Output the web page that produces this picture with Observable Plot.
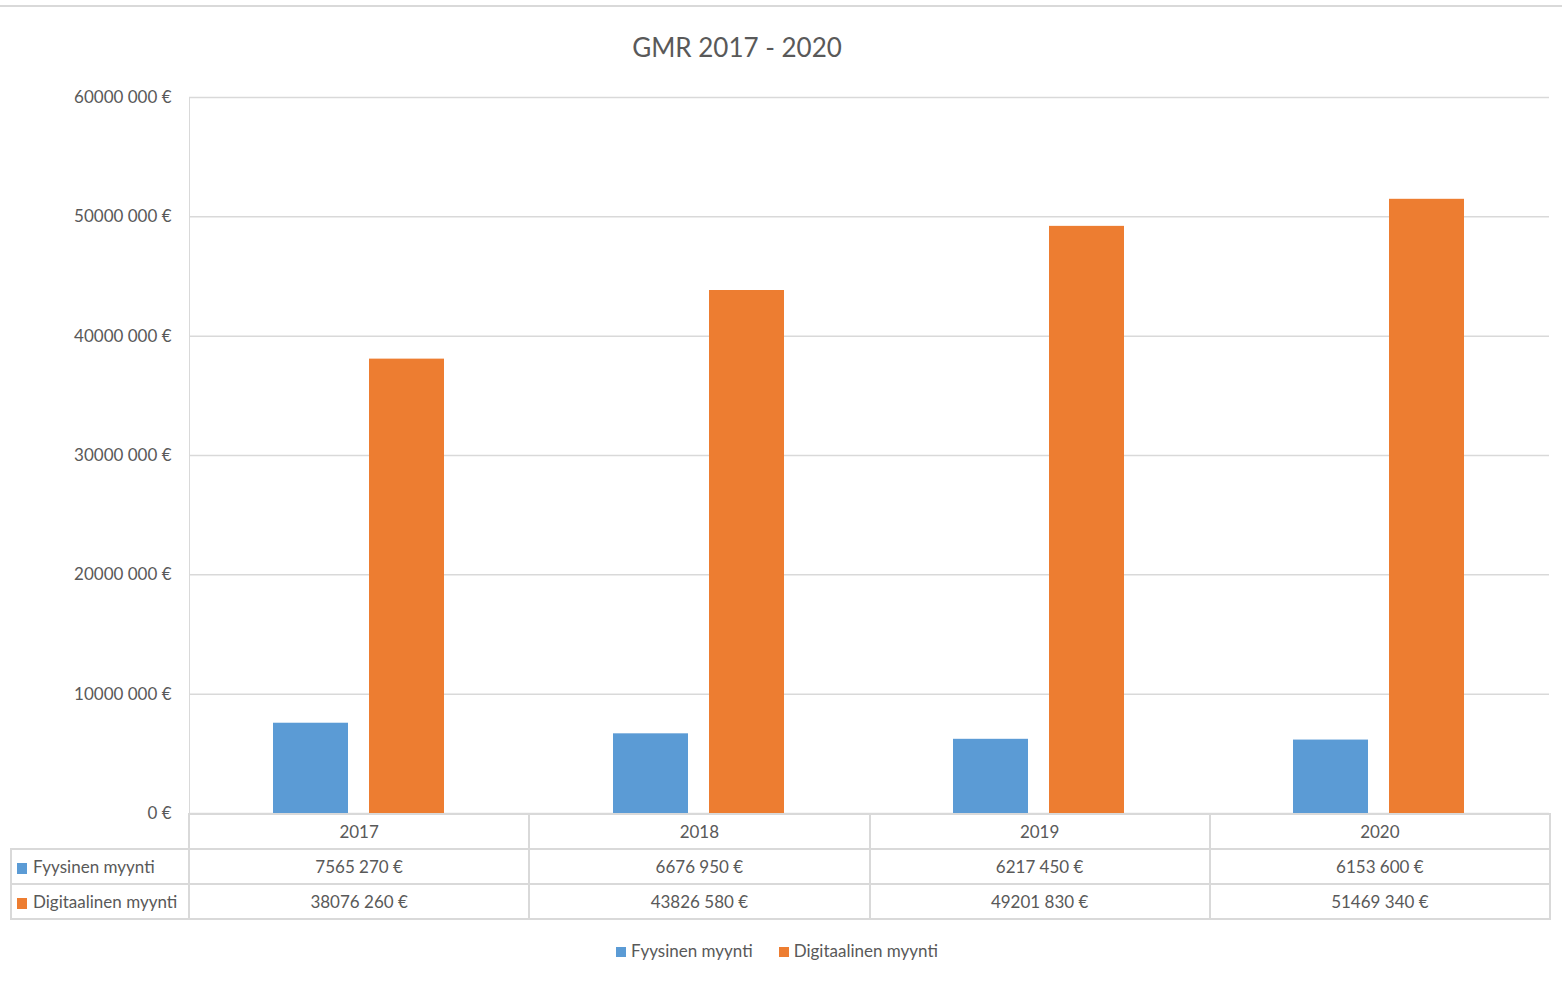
<!DOCTYPE html>
<html>
<head>
<meta charset="utf-8">
<script src="https://cdn.jsdelivr.net/npm/d3@7"></script>
<script src="https://cdn.jsdelivr.net/npm/@observablehq/plot@0.6"></script>
<style>
  html, body { margin: 0; padding: 0; background: #fff; }
  body { width: 1562px; height: 983px; position: relative; overflow: hidden; font-family: Lato, "Open Sans", sans-serif; color: #595959; }
  #header { position: relative; height: 80px; }
  #topline { position: absolute; left: 0; top: 5px; width: 1562px; height: 2px; background: #d9d9d9; }
  #title { position: absolute; left: 0; width: 1474px; top: 30px; text-align: center; font-size: 26px; line-height: 34px; color: #595959; }
  #chart svg { display: block; }
  #chart svg text { fill: #595959; }
  #table { position: absolute; left: 10px; top: 813px; border-collapse: collapse; table-layout: fixed; font-size: 17px; color: #595959; }
  #table tr { height: 35px; }
  #table tr.head { height: 35px; }
  #table td { border: 2px solid #d9d9d9; text-align: center; padding: 0; white-space: nowrap; }
  #table td.blank { border-top: none; border-left: none; border-bottom: 2px solid #d9d9d9; }
  #table td.name { text-align: left; padding-left: 5px; }
  .sw { display: inline-block; width: 10px; height: 11px; margin-right: 6px; vertical-align: -1px; }
  #legend { position: absolute; top: 940px; left: 0; width: 1554px; display: flex; justify-content: center; gap: 26px; font-size: 17px; color: #595959; }
  #legend .sw { width: 10px; height: 10px; margin-right: 5px; vertical-align: 0; }
</style>
</head>
<body>
<div id="header"><div id="topline"></div><div id="title"></div></div>
<div id="chart"></div>
<table id="table"></table>
<div id="legend"></div>
<script>
const title = "GMR 2017 - 2020";
const years = ["2017", "2018", "2019", "2020"];
const series = ["Fyysinen myynti", "Digitaalinen myynti"];
const fyysinen = [7565270, 6676950, 6217450, 6153600];
const digitaalinen = [38076260, 43826580, 49201830, 51469340];
const colors = ["#5B9BD5", "#ED7D31"];
const yTicks = [0, 10000000, 20000000, 30000000, 40000000, 50000000, 60000000];
const yTickLabels = ["0 €", "10000 000 €", "20000 000 €", "30000 000 €", "40000 000 €", "50000 000 €", "60000 000 €"];

const seriesValues = [fyysinen, digitaalinen];
const data = [];
years.forEach((yr, i) => series.forEach((s, j) => data.push({year: yr, series: s, value: seriesValues[j][i]})));

const fmt = v => { const s = String(v); return s.slice(0, -3) + " " + s.slice(-3) + " €"; };

document.getElementById("title").textContent = title;

const chart = Plot.plot({
  width: 1562,
  height: 747,
  marginTop: 17,
  marginBottom: 14,
  marginLeft: 188,
  marginRight: 13,
  style: {color: "#d9d9d9", fontFamily: "Lato, 'Open Sans', sans-serif", fontSize: "17px", background: "transparent"},
  fx: {domain: years, padding: 0, axis: null, label: null},
  x: {domain: series, paddingInner: 0.2165, paddingOuter: 0.862, axis: null},
  y: {domain: [0, 60000000], ticks: yTicks, tickFormat: d => yTickLabels[yTicks.indexOf(d)], tickSize: 0, tickPadding: 18, label: null, line: true},
  color: {domain: series, range: colors},
  marks: [
    Plot.ruleY(yTicks, {stroke: "#d9d9d9", strokeWidth: 1.5}),
    Plot.barY(data, {fx: "year", x: "series", y: "value", fill: "series"})
  ]
});
document.getElementById("chart").appendChild(chart);

// data table
const table = document.getElementById("table");
const colgroup = document.createElement("colgroup");
const c0 = document.createElement("col"); c0.style.width = "178px"; colgroup.appendChild(c0);
years.forEach(() => { const c = document.createElement("col"); c.style.width = "340.25px"; colgroup.appendChild(c); });
table.appendChild(colgroup);
const hr = document.createElement("tr"); hr.className = "head";
const blank = document.createElement("td"); blank.className = "blank"; hr.appendChild(blank);
years.forEach(y => { const td = document.createElement("td"); td.textContent = y; hr.appendChild(td); });
table.appendChild(hr);
series.forEach((s, j) => {
  const tr = document.createElement("tr");
  const name = document.createElement("td"); name.className = "name";
  const sw = document.createElement("span"); sw.className = "sw"; sw.style.background = colors[j];
  name.appendChild(sw); name.appendChild(document.createTextNode(s));
  tr.appendChild(name);
  seriesValues[j].forEach(v => { const td = document.createElement("td"); td.textContent = fmt(v); tr.appendChild(td); });
  table.appendChild(tr);
});

// legend
const legend = document.getElementById("legend");
series.forEach((s, j) => {
  const item = document.createElement("span");
  const sw = document.createElement("span"); sw.className = "sw"; sw.style.background = colors[j];
  item.appendChild(sw); item.appendChild(document.createTextNode(s));
  legend.appendChild(item);
});
</script>
</body>
</html>
